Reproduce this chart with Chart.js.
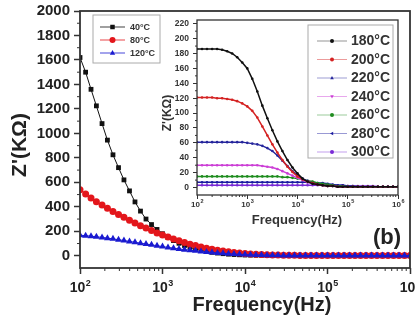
<!DOCTYPE html>
<html lang="en">
<head>
<meta charset="UTF-8">
<title>Z' vs Frequency</title>
<script src="https://cdn.jsdelivr.net/npm/chart.js"></script>
<style>
  html, body { margin: 0; padding: 0; background: #fff; }
  #wrap { position: relative; width: 415px; height: 320px; overflow: hidden; background: #fff; }
  #mainChart { position: absolute; left: 0; top: 0; }
  #insetChart { position: absolute; left: 160px; top: 14px; }
</style>
</head>
<body>
<div id="wrap">
  <canvas id="mainChart" width="415" height="320"></canvas>
  <canvas id="insetChart" width="248" height="216"></canvas>
</div>
<script>
const FONT = '"Liberation Sans", Arial, sans-serif';

// ---- main plot data (15 points per decade) ----
const freqMain = [100,117,136,158,185,215,251,293,341,398,464,541,631,736,858,
  1000,1166,1359,1585,1848,2154,2512,2929,3415,3981,4642,5412,6310,7356,8577,
  10000,11660,13590,15850,18480,21540,25120,29290,34150,39810,46420,54120,63100,73560,85770,
  100000,116600,135900,158500,184800,215400,251200,292900,341500,398100,464200,541200,631000,735600,857700,
  1000000];
const z40 = [1620,1500,1360,1225,1080,945,825,720,620,530,440,365,300,255,215,
  180,150,124,102,84,68,55,44,35,28,22,17,13,10,8,
  6,5,4,4,3,3,2,2,2,2,2,1,1,1,1,
  1,1,1,1,1,1,1,1,1,1,1,1,1,1,1,
  1];
const z80 = [540,505,472,442,414,388,362,338,314,291,268,246,226,206,187,
  170,153,137,122,108,95,83,72,62,53,45,38,32,27,22,
  18,15,12,10,8,7,6,5,4,4,3,3,3,2,2,
  2,2,2,2,2,2,2,2,2,2,2,2,2,2,2,
  2];
const z120 = [168,164,160,155,150,144,138,131,124,117,110,103,96,89,82,
  75,68,62,56,50,45,40,35,31,27,23,20,17,14,12,
  10,8,7,6,5,4,4,3,3,3,2,2,2,2,2,
  2,2,2,2,2,2,2,2,2,2,2,2,2,2,2,
  2];
const mainNames = ['40°C', '80°C', '120°C'];
const mainColors = ['#111111', '#e3161b', '#1a1ad0'];
const mainStyles = ['rect', 'circle', 'triangle'];

const xTicks = [100, 1000, 10000, 100000, 1000000];
const xTickExp = ['2', '3', '4', '5', '6'];
const yTicksMain = [0, 200, 400, 600, 800, 1000, 1200, 1400, 1600, 1800, 2000];
const yMinorMain = [100, 300, 500, 700, 900, 1100, 1300, 1500, 1700, 1900];

// ---- inset data (10 points per decade) ----
const freqInset = [100,126,158,200,251,316,398,501,631,794,
  1000,1259,1585,1995,2512,3162,3981,5012,6310,7943,
  10000,12590,15850,19950,25120,31620,39810,50120,63100,79430,
  100000,125900,158500,199500,251200,316200,398100,501200,631000,794300,
  1000000];
const z180 = [186,186,186,186,186,185,183,180,175,168,160,146,129,110,93,77,62,49,37,27,19,12,8,5,4,3,2,2,1,1,1,1,1,1,1,1,1,1,1,1,1];
const z200 = [121,121,121,121,120,120,119,118,116,113,109,103,94,82,70,58,47,37,28,21,15,11,8,6,4,3,2,2,1,1,1,1,1,1,1,1,1,1,1,1,1];
const z220 = [61,61,61,61,61,61,61,61,61,61,60,59,58,56,53,49,43,36,29,22,17,12,9,6,4,3,2,2,1,1,1,1,1,1,1,1,1,1,1,1,1];
const z240 = [30,30,30,30,30,30,30,30,30,30,30,30,30,29,28,27,25,22,19,16,13,10,7,5,4,3,2,2,1,1,1,1,1,1,1,1,1,1,1,1,1];
const z260 = [15,15,15,15,15,15,15,15,15,15,15,15,15,15,15,15,15,14,14,13,12,11,9,8,6,5,4,3,2,2,1,1,1,1,1,1,1,1,1,1,1];
const z280 = [7,7,7,7,7,7,7,7,7,7,7,7,7,7,7,7,7,7,7,7,7,7,7,7,6,6,5,4,3,3,2,2,1,1,1,1,1,1,1,1,1];
const z300 = [3,3,3,3,3,3,3,3,3,3,3,3,3,3,3,3,3,3,3,3,3,3,3,3,3,3,3,3,3,3,2,2,2,2,2,2,1,1,1,1,1];
const insetSeries = [z180, z200, z220, z240, z260, z280, z300];
const insetNames = ['180°C', '200°C', '220°C', '240°C', '260°C', '280°C', '300°C'];
const insetColors = ['#111111', '#d42222', '#26269c', '#cc3fd6', '#1e8c1e', '#1c1ca0', '#7a2ad6'];
const insetMarks = ['circle', 'circle', 'triangle', 'triangleDown', 'circle', 'triangleLeft', 'circle'];
const yTicksInset = [0, 20, 40, 60, 80, 100, 120, 140, 160, 180, 200, 220];
const yMinorInset = [10, 30, 50, 70, 90, 110, 130, 150, 170, 190, 210];

function pts(xs, ys) { return xs.map((f, i) => ({ x: f, y: ys[i] })); }

function marker(ctx, style, x, y, r, color) {
  ctx.fillStyle = color;
  ctx.beginPath();
  if (style === 'rect') {
    ctx.rect(x - r * 0.75, y - r * 0.75, r * 1.5, r * 1.5);
  } else if (style === 'triangle') {
    ctx.moveTo(x, y - r); ctx.lineTo(x + r * 0.9, y + r * 0.6); ctx.lineTo(x - r * 0.9, y + r * 0.6); ctx.closePath();
  } else if (style === 'triangleDown') {
    ctx.moveTo(x, y + r); ctx.lineTo(x + r * 0.9, y - r * 0.6); ctx.lineTo(x - r * 0.9, y - r * 0.6); ctx.closePath();
  } else if (style === 'triangleLeft') {
    ctx.moveTo(x - r, y); ctx.lineTo(x + r * 0.6, y - r * 0.9); ctx.lineTo(x + r * 0.6, y + r * 0.9); ctx.closePath();
  } else {
    ctx.arc(x, y, r, 0, Math.PI * 2);
  }
  ctx.fill();
}

function expLabel(ctx, cx, baseY, exp, big, small) {
  ctx.font = `bold ${big}px ${FONT}`;
  const w1 = ctx.measureText('10').width;
  ctx.font = `bold ${small}px ${FONT}`;
  const w2 = ctx.measureText(exp).width;
  const x0 = cx - (w1 + w2) / 2;
  ctx.textAlign = 'left';
  ctx.textBaseline = 'alphabetic';
  ctx.font = `bold ${big}px ${FONT}`;
  ctx.fillText('10', x0, baseY);
  ctx.font = `bold ${small}px ${FONT}`;
  ctx.fillText(exp, x0 + w1 + 0.5, baseY - big * 0.45);
}

function line(ctx, x1, y1, x2, y2) {
  ctx.beginPath(); ctx.moveTo(x1, y1); ctx.lineTo(x2, y2); ctx.stroke();
}

// frame, minor ticks, log labels and titles for either chart
function decor(o) {
  return {
    id: 'decor',
    afterDraw(chart) {
      const { ctx, chartArea: a, scales: { x, y } } = chart;
      ctx.save();
      ctx.strokeStyle = '#333';
      ctx.lineWidth = o.frameWidth;
      ctx.strokeRect(a.left, a.top, a.right - a.left, a.bottom - a.top);
      ctx.lineWidth = 1;
      xTicks.slice(0, -1).forEach(d => {
        for (let m = 2; m <= 9; m++) {
          const px = x.getPixelForValue(d * m);
          line(ctx, px, a.bottom, px, a.bottom + o.minorLen);
        }
      });
      o.yMinor.forEach(v => {
        const py = y.getPixelForValue(v);
        line(ctx, a.left - o.minorLen, py, a.left, py);
      });
      ctx.fillStyle = o.textColor;
      xTicks.forEach((v, i) => expLabel(ctx, x.getPixelForValue(v), o.xLabelBase, xTickExp[i], o.xBig, o.xSmall));
      // axis titles
      ctx.textAlign = 'center';
      ctx.textBaseline = 'middle';
      ctx.font = `bold ${o.titleSize}px ${FONT}`;
      ctx.fillText('Frequency(Hz)', o.xTitle[0], o.xTitle[1]);
      ctx.save();
      ctx.translate(o.yTitle[0], o.yTitle[1]);
      ctx.rotate(-Math.PI / 2);
      ctx.font = `bold ${o.yTitleSize}px ${FONT}`;
      ctx.fillText("Z'(KΩ)", 0, 0);
      ctx.restore();
      // legend
      const L = o.legend;
      ctx.strokeStyle = '#aaa';
      ctx.lineWidth = 1;
      ctx.strokeRect(L.box[0], L.box[1], L.box[2], L.box[3]);
      L.names.forEach((n, i) => {
        const ly = L.y0 + i * L.dy;
        ctx.strokeStyle = L.colors[i];
        ctx.globalAlpha = L.lineAlpha;
        line(ctx, L.x1, ly, L.x2, ly);
        ctx.globalAlpha = 1;
        marker(ctx, L.marks[i], (L.x1 + L.x2) / 2, ly, L.r, L.colors[i]);
        ctx.fillStyle = '#333';
        ctx.font = `bold ${L.size}px ${FONT}`;
        ctx.textAlign = 'left';
        ctx.textBaseline = 'middle';
        ctx.fillText(n, L.tx, ly + 0.5);
      });
      if (o.extra) o.extra(ctx);
      ctx.restore();
    }
  };
}

const mainChart = new Chart(document.getElementById('mainChart'), {
  type: 'line',
  data: {
    datasets: [
      { label: mainNames[0], data: pts(freqMain, z40), borderColor: mainColors[0], backgroundColor: mainColors[0],
        pointStyle: 'rect', pointRadius: 3.4, borderWidth: 1, pointBorderWidth: 0, order: 3 },
      { label: mainNames[1], data: pts(freqMain, z80), borderColor: mainColors[1], backgroundColor: mainColors[1],
        pointStyle: 'circle', pointRadius: 3.5, borderWidth: 1, pointBorderWidth: 0, order: 2 },
      { label: mainNames[2], data: pts(freqMain, z120), borderColor: mainColors[2], backgroundColor: mainColors[2],
        pointStyle: 'triangle', pointRadius: 4, borderWidth: 1, pointBorderWidth: 0, order: 1 }
    ]
  },
  options: {
    responsive: false,
    animation: false,
    devicePixelRatio: 1,
    layout: { padding: { left: 10, top: 11, right: 5, bottom: 0 } },
    plugins: { legend: { display: false }, tooltip: { enabled: false } },
    scales: {
      x: {
        type: 'logarithmic', min: 100, max: 1000000,
        grid: { drawOnChartArea: false, drawTicks: true, tickLength: 6, tickWidth: 1.5, tickColor: '#333' },
        border: { display: false },
        ticks: { display: false },
        afterBuildTicks: s => { s.ticks = xTicks.map(v => ({ value: v })); },
        afterFit: s => { s.height = 52; s.paddingLeft = 0; s.paddingRight = 0; }
      },
      y: {
        min: -100, max: 2000,
        grid: { drawOnChartArea: false, drawTicks: true, tickLength: 6, tickWidth: 1.5, tickColor: '#333' },
        border: { display: false },
        ticks: { color: '#222', font: { family: FONT, size: 15, weight: 'bold' }, padding: 4,
          callback: v => String(v) },
        afterBuildTicks: s => { s.ticks = yTicksMain.map(v => ({ value: v })); },
        afterFit: s => { s.width = 70; s.paddingTop = 0; s.paddingBottom = 0; }
      }
    }
  },
  plugins: [decor({
    frameWidth: 1.8, minorLen: 3, yMinor: yMinorMain, textColor: '#222',
    xLabelBase: 292, xBig: 14, xSmall: 9,
    titleSize: 20, yTitleSize: 21, xTitle: [262, 305], yTitle: [20, 145],
    legend: { box: [93, 15, 67, 48], names: mainNames, colors: mainColors, marks: mainStyles,
      y0: 27, dy: 13, x1: 100, x2: 125, r: 3, tx: 130, size: 9, lineAlpha: 0.8 },
    extra: ctx => {
      ctx.fillStyle = '#222';
      ctx.font = `bold 22px ${FONT}`;
      ctx.textAlign = 'center';
      ctx.textBaseline = 'middle';
      ctx.fillText('(b)', 387, 238);
    }
  })]
});

const insetChart = new Chart(document.getElementById('insetChart'), {
  type: 'line',
  data: {
    datasets: insetSeries.map((s, i) => ({
      label: insetNames[i], data: pts(freqInset, s),
      borderColor: insetColors[i], backgroundColor: insetColors[i],
      pointStyle: 'circle', pointRadius: 1.3, pointBorderWidth: 0, borderWidth: 1.5
    }))
  },
  options: {
    responsive: false,
    animation: false,
    devicePixelRatio: 1,
    layout: { padding: { left: 12, top: 6, right: 10, bottom: 0 } },
    plugins: { legend: { display: false }, tooltip: { enabled: false } },
    scales: {
      x: {
        type: 'logarithmic', min: 100, max: 1000000,
        grid: { drawOnChartArea: false, drawTicks: true, tickLength: 4, tickWidth: 1, tickColor: '#333' },
        border: { display: false },
        ticks: { display: false },
        afterBuildTicks: s => { s.ticks = xTicks.map(v => ({ value: v })); },
        afterFit: s => { s.height = 35; s.paddingLeft = 0; s.paddingRight = 0; }
      },
      y: {
        min: -10, max: 225,
        grid: { drawOnChartArea: false, drawTicks: true, tickLength: 4, tickWidth: 1, tickColor: '#333' },
        border: { display: false },
        ticks: { color: '#333', font: { family: FONT, size: 8.5, weight: 'bold' }, padding: 4,
          callback: v => String(v) },
        afterBuildTicks: s => { s.ticks = yTicksInset.map(v => ({ value: v })); },
        afterFit: s => { s.width = 25; s.paddingTop = 0; s.paddingBottom = 0; }
      }
    }
  },
  plugins: [decor({
    frameWidth: 1.3, minorLen: 2, yMinor: yMinorInset, textColor: '#333',
    xLabelBase: 193, xBig: 8, xSmall: 5.5,
    titleSize: 13, yTitleSize: 12, xTitle: [137, 206], yTitle: [8, 99],
    legend: { box: [148, 11, 85, 133], names: insetNames, colors: insetColors, marks: insetMarks,
      y0: 27, dy: 18.5, x1: 157, x2: 187, r: 2, tx: 191, size: 14, lineAlpha: 0.45 }
  })]
});
</script>
</body>
</html>
